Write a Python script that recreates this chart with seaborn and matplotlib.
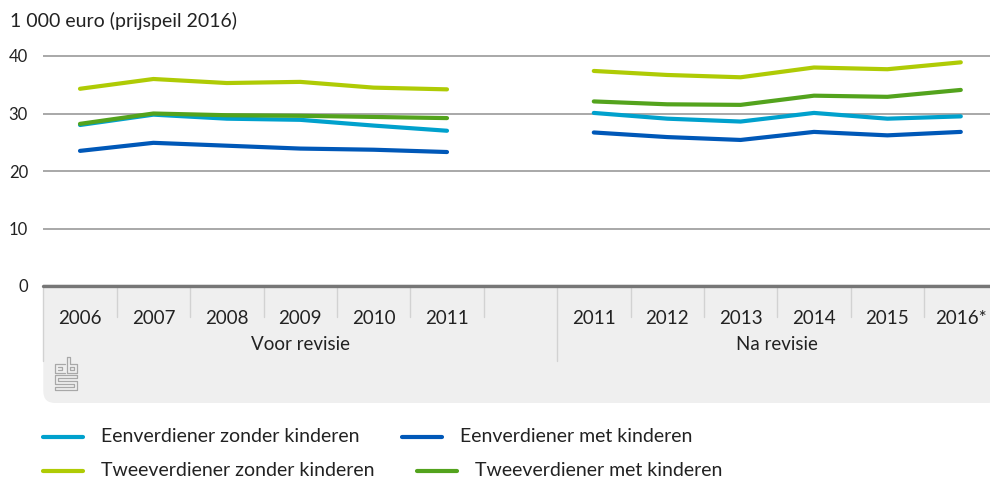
import numpy as np
import pandas as pd
import matplotlib
matplotlib.use("Agg")
import matplotlib.pyplot as plt
import matplotlib.transforms as mtransforms
from matplotlib.patches import FancyBboxPatch, Rectangle
from matplotlib.lines import Line2D
import seaborn as sns

# ------------------------------------------------------------
# Data
# ------------------------------------------------------------
jaren_voor = ['2006', '2007', '2008', '2009', '2010', '2011']
jaren_na = ['2011', '2012', '2013', '2014', '2015', '2016*']
perioden = ['Voor revisie', 'Na revisie']

ev_zonder_voor = [28.0, 29.8, 29.1, 28.9, 27.9, 27.0]
ev_met_voor = [23.5, 24.9, 24.4, 23.9, 23.7, 23.3]
tv_zonder_voor = [34.3, 36.0, 35.3, 35.5, 34.5, 34.2]
tv_met_voor = [28.2, 30.0, 29.7, 29.6, 29.4, 29.2]

ev_zonder_na = [30.1, 29.1, 28.6, 30.1, 29.1, 29.5]
ev_met_na = [26.7, 25.9, 25.4, 26.8, 26.2, 26.8]
tv_zonder_na = [37.4, 36.7, 36.3, 38.0, 37.7, 38.9]
tv_met_na = [32.1, 31.6, 31.5, 33.1, 32.9, 34.1]

huishoudens = ['Eenverdiener zonder kinderen', 'Eenverdiener met kinderen',
               'Tweeverdiener zonder kinderen', 'Tweeverdiener met kinderen']
kleuren = ['#00a1cd', '#0058b8', '#afcb05', '#53a31d']

# categories on the x axis, with an empty slot between both periods
categorieen = jaren_voor + [''] + jaren_na
pos_voor = list(range(len(jaren_voor)))
pos_na = list(range(len(jaren_voor) + 1, len(categorieen)))

reeksen = {
    huishoudens[0]: (ev_zonder_voor, ev_zonder_na),
    huishoudens[1]: (ev_met_voor, ev_met_na),
    huishoudens[2]: (tv_zonder_voor, tv_zonder_na),
    huishoudens[3]: (tv_met_voor, tv_met_na),
}

rows = []
for naam, (voor, na) in reeksen.items():
    for p, v in zip(pos_voor, voor):
        rows.append({'pos': p, 'waarde': v, 'huishouden': naam, 'periode': perioden[0]})
    for p, v in zip(pos_na, na):
        rows.append({'pos': p, 'waarde': v, 'huishouden': naam, 'periode': perioden[1]})
df = pd.DataFrame(rows)

# ------------------------------------------------------------
# Figure
# ------------------------------------------------------------
sns.set_theme(style="white")
plt.rcParams['font.family'] = ['Lato', 'DejaVu Sans']
TXT = '#222222'

W, H = 990, 479
fig = plt.figure(figsize=(W / 100, H / 100), dpi=100)

def fx(px):
    return px / W

def fy(py):
    return 1 - py / H

slot = 73.4
left_px, zero_px, unit_px = 43.3, 286.0, 5.75
ytop = 41
ax = fig.add_axes([fx(left_px), fy(zero_px), fx(13 * slot), (ytop * unit_px) / H])

# grey category box under the axis
box_top, box_bot = 284, 403
fig.patches.append(FancyBboxPatch((fx(left_px), fy(box_bot)), fx(1000 - left_px), (box_bot - box_top) / H,
                                  boxstyle="round,pad=0,rounding_size=0.012", transform=fig.transFigure,
                                  facecolor='#efefef', edgecolor='none', zorder=-2, mutation_aspect=W / H))
fig.patches.append(Rectangle((fx(left_px), fy(box_top + 40)), fx(1000 - left_px), 40 / H,
                             transform=fig.transFigure, facecolor='#efefef', edgecolor='none', zorder=-2))

# gridlines
for v in [10, 20, 30, 40]:
    ax.axhline(v, color='#9a9a9a', lw=1.2, zorder=1)

sns.lineplot(data=df, x='pos', y='waarde', hue='huishouden', units='periode', estimator=None,
             hue_order=huishoudens, palette=kleuren, linewidth=3.0, legend=False, ax=ax,
             solid_capstyle='round', zorder=3)

ax.axhline(0, color='#767676', lw=2.4, zorder=4, clip_on=False)

ax.set_xlim(-0.5, len(categorieen) - 0.5)
ax.set_ylim(0, ytop)
ax.set_yticks([0, 10, 20, 30, 40])
ax.set_yticklabels(['0', '10', '20', '30', '40'])
ax.tick_params(axis='y', length=0, pad=11, labelsize=12, labelcolor=TXT)
ax.set_xticks([])
ax.set_xlabel('')
ax.set_ylabel('')
for s in ax.spines.values():
    s.set_visible(False)
ax.patch.set_alpha(0)

# x labels and separators in the grey box
trans = mtransforms.blended_transform_factory(ax.transData, fig.transFigure)
for i, lab in enumerate(categorieen):
    if lab:
        ax.text(i, fy(319), lab, transform=trans, ha='center', va='center',
                fontsize=13.5, color=TXT, clip_on=False)
for b in np.arange(-0.5, len(categorieen) - 1, 1.0):
    lange = b in (-0.5, len(jaren_voor) + 0.5)
    ax.plot([b, b], [fy(287), fy(361 if lange else 317)], transform=trans,
            color='#d2d2d2', lw=1.0, clip_on=False, zorder=2)

groep_centra = [(-0.5 + len(jaren_voor) + 0.5) / 2, (len(jaren_voor) + 0.5 + len(categorieen) - 0.5) / 2]
for c, lab in zip(groep_centra, perioden):
    ax.text(c, fy(344), lab, transform=trans, ha='center', va='center',
            fontsize=13.5, color=TXT, clip_on=False)

# small cbs logo (outline)
logo_c = '#a8a8a8'
segs = [
    [(65, 364), (55, 364), (55, 373), (65, 373)],
    [(58, 367), (62, 367), (62, 370), (58, 370)],
    [(67, 357), (67, 373), (77, 373), (77, 364), (70, 364), (70, 357), (67, 357)],
    [(70, 367), (74, 367), (74, 370), (70, 370), (70, 367)],
    [(77, 375), (55, 375), (55, 384), (74, 384), (74, 387), (55, 387), (55, 390), (77, 390),
     (77, 381), (58, 381), (58, 378), (77, 378), (77, 375)],
]
for seg in segs:
    xs = [fx(p[0]) for p in seg]
    ys = [fy(p[1]) for p in seg]
    fig.add_artist(Line2D(xs, ys, color=logo_c, lw=0.9, transform=fig.transFigure))

# unit label
fig.text(fx(10), fy(21), '1 000 euro (prijspeil 2016)', ha='left', va='center', fontsize=14, color=TXT)

# legend
legenda = [
    (huishoudens[0], kleuren[0], 43, 437),
    (huishoudens[1], kleuren[1], 402, 437),
    (huishoudens[2], kleuren[2], 43, 471),
    (huishoudens[3], kleuren[3], 417, 471),
]
for naam, kleur, x0, y0 in legenda:
    fig.add_artist(Line2D([fx(x0), fx(x0 + 40)], [fy(y0), fy(y0)], color=kleur, lw=3.0,
                          transform=fig.transFigure))
    fig.text(fx(x0 + 58), fy(y0), naam, ha='left', va='center', fontsize=14, color=TXT)

fig.savefig('out.png', dpi=100)
